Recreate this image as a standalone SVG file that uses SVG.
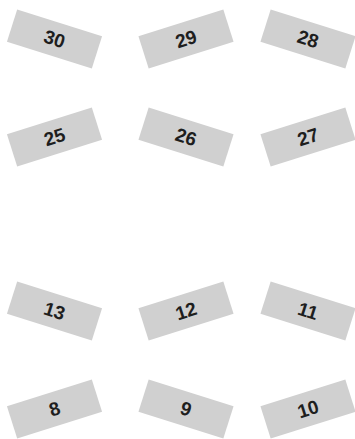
<svg xmlns="http://www.w3.org/2000/svg" width="355" height="439" viewBox="0 0 355 439">
<style>
.box{fill:#d0d0d0}
.lbl{font-family:"Liberation Sans",Arial,sans-serif;font-weight:bold;font-size:19px;fill:#1e1e1e;text-anchor:middle;dominant-baseline:central}
</style>
<defs>
<rect id="r" x="-44.5" y="-17" width="89" height="34" class="box"/>
</defs>
<rect width="355" height="439" fill="#fff"/>
<g id="n30" transform="translate(54.5,39) rotate(17.5)"><use href="#r"/><text class="lbl" x="0" y="0">30</text></g>
<g id="n29" transform="translate(186,39) rotate(-17.5)"><use href="#r"/><text class="lbl" x="0" y="0">29</text></g>
<g id="n28" transform="translate(308,39) rotate(17.5)"><use href="#r"/><text class="lbl" x="0" y="0">28</text></g>
<g id="n25" transform="translate(54.5,137) rotate(-17.5)"><use href="#r"/><text class="lbl" x="0" y="0">25</text></g>
<g id="n26" transform="translate(186,137) rotate(17.5)"><use href="#r"/><text class="lbl" x="0" y="0">26</text></g>
<g id="n27" transform="translate(308,137) rotate(-17.5)"><use href="#r"/><text class="lbl" x="0" y="0">27</text></g>
<g id="n13" transform="translate(54.5,311) rotate(17.5)"><use href="#r"/><text class="lbl" x="0" y="0">13</text></g>
<g id="n12" transform="translate(186,311) rotate(-17.5)"><use href="#r"/><text class="lbl" x="0" y="0">12</text></g>
<g id="n11" transform="translate(308,311) rotate(17.5)"><use href="#r"/><text class="lbl" x="0" y="0">11</text></g>
<g id="n8" transform="translate(54.5,409) rotate(-17.5)"><use href="#r"/><text class="lbl" x="0" y="0">8</text></g>
<g id="n9" transform="translate(186,409) rotate(17.5)"><use href="#r"/><text class="lbl" x="0" y="0">9</text></g>
<g id="n10" transform="translate(308,409) rotate(-17.5)"><use href="#r"/><text class="lbl" x="0" y="0">10</text></g>
<g id="connectors"/>
</svg>
